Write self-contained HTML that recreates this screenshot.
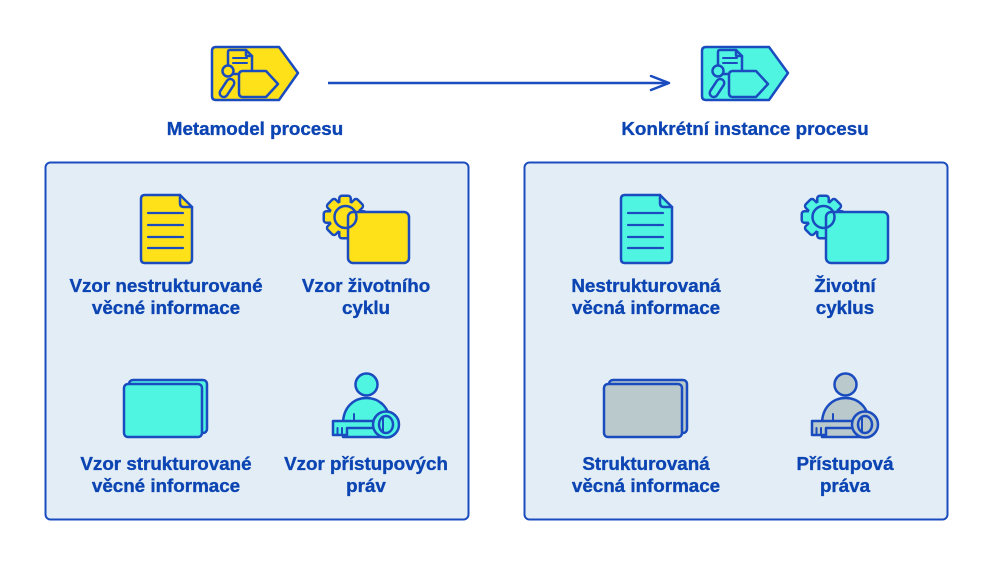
<!DOCTYPE html>
<html><head><meta charset="utf-8"><style>
html,body{margin:0;padding:0;background:#fff;}
svg{display:block;}
text{font-family:"Liberation Sans",Arial,sans-serif;font-weight:bold;font-size:18.8px;fill:#0c45b3;stroke:#0c45b3;stroke-width:0.35px;text-anchor:middle;}
</style></head><body>
<svg width="1000" height="566" viewBox="0 0 1000 566" xmlns="http://www.w3.org/2000/svg">
<defs>
  <g id="topicon" stroke="#1a4cc0" stroke-width="2.5" stroke-linejoin="round" stroke-linecap="round">
    <path d="M216 47 H279 L298 73 L279 100 H216 Q212 100 212 96 V51 Q212 47 216 47 Z"/>
    <path d="M230 50 H246 L252 56 V72 Q252 74 250 74 H230 Q228 74 228 72 V52 Q228 50 230 50 Z"/>
    <path d="M246 50 V55 Q246 56 247 56 H252" fill="none"/>
    <line x1="233" y1="58" x2="247" y2="58" stroke-width="2"/>
    <line x1="233" y1="63" x2="247" y2="63" stroke-width="2"/>
    <rect x="-4" y="-10" width="8" height="20" rx="4" transform="translate(227 88) rotate(33)"/>
    <circle cx="228" cy="71" r="5.5"/>
    <path d="M243 71 H266 L278 84 L266 97 H243 Q239 97 239 93 V75 Q239 71 243 71 Z"/>
  </g>
  <g id="doc" stroke="#1a4cc0" stroke-width="2.5" stroke-linejoin="round" stroke-linecap="round">
    <path d="M145 195 H180 L192 207 V259 Q192 263 188 263 H145 Q141 263 141 259 V199 Q141 195 145 195 Z"/>
    <path d="M180 195 V203 Q180 207 184 207 H192" fill="none"/>
    <g stroke-width="2.2">
      <line x1="148" y1="213" x2="183" y2="213"/>
      <line x1="148" y1="225" x2="183" y2="225"/>
      <line x1="148" y1="237" x2="183" y2="237"/>
      <line x1="148" y1="248" x2="183" y2="248"/>
    </g>
  </g>
  <g id="gearparts">
    <circle cx="0" cy="0" r="15"/>
    <rect x="-4.5" y="-20" width="9" height="10" rx="1.5" transform="rotate(0)"/>
    <rect x="-4.5" y="-20" width="9" height="10" rx="1.5" transform="rotate(45)"/>
    <rect x="-4.5" y="-20" width="9" height="10" rx="1.5" transform="rotate(90)"/>
    <rect x="-4.5" y="-20" width="9" height="10" rx="1.5" transform="rotate(135)"/>
    <rect x="-4.5" y="-20" width="9" height="10" rx="1.5" transform="rotate(180)"/>
    <rect x="-4.5" y="-20" width="9" height="10" rx="1.5" transform="rotate(225)"/>
    <rect x="-4.5" y="-20" width="9" height="10" rx="1.5" transform="rotate(270)"/>
    <rect x="-4.5" y="-20" width="9" height="10" rx="1.5" transform="rotate(315)"/>
  </g>
  <g id="cards" stroke="#1a4cc0" stroke-width="2.5" stroke-linejoin="round">
    <rect x="129" y="380" width="78" height="53" rx="4"/>
    <rect x="124" y="384" width="78" height="53" rx="4"/>
  </g>
  <g id="person" stroke="#1a4cc0" stroke-width="2.5" stroke-linejoin="round" stroke-linecap="round">
    <circle cx="366.5" cy="384.5" r="11"/>
    <path d="M343 437 V424 C343 407 354 398 366.5 398 C379 398 390 407 390 424 V437 Z"/>
    <line x1="354" y1="414" x2="354" y2="428" stroke-width="2"/>
    <path d="M333 421 H375 V428 H347 V435 H333 Z"/>
    <line x1="337.5" y1="428" x2="337.5" y2="435" stroke-width="2"/>
    <line x1="342" y1="428" x2="342" y2="435" stroke-width="2"/>
    <circle cx="386" cy="424.5" r="13"/>
    <ellipse cx="386" cy="424.5" rx="7" ry="8.5"/>
    <line x1="383" y1="416.5" x2="383" y2="432.5" stroke-width="2"/>
  </g>
</defs>

<!-- top icons -->
<use href="#topicon" fill="#ffe11a"/>
<use href="#topicon" fill="#50f5e2" transform="translate(490 0)"/>

<!-- arrow -->
<line x1="328" y1="83" x2="667" y2="83" stroke="#1a4cc0" stroke-width="2.5"/>
<polyline points="651,76 669,83 651,90" fill="none" stroke="#1a4cc0" stroke-width="2.5" stroke-linejoin="round" stroke-linecap="round"/>

<text x="255" y="135">Metamodel procesu</text>
<text x="745" y="135">Konkrétní instance procesu</text>

<!-- panels -->
<rect x="45.5" y="162.5" width="423" height="357" rx="5" fill="#e2edf5" stroke="#1a4cc0" stroke-width="2"/>
<rect x="524.5" y="162.5" width="423" height="357" rx="5" fill="#e2edf5" stroke="#1a4cc0" stroke-width="2"/>

<!-- LEFT PANEL -->
<use href="#doc" fill="#ffe11a"/>
<g transform="translate(345 217)">
  <use href="#gearparts" fill="#1a4cc0" stroke="#1a4cc0" stroke-width="5" stroke-linejoin="round"/>
  <use href="#gearparts" fill="#ffe11a"/>
</g>
<rect x="348" y="212" width="61" height="51" rx="5" fill="#ffe11a" stroke="#1a4cc0" stroke-width="2.5"/>
<circle cx="345.5" cy="217" r="11" fill="none" stroke="#1a4cc0" stroke-width="2.5"/>

<use href="#cards" fill="#50f5e2"/>
<use href="#person" fill="#50f5e2"/>

<text x="166" y="292">Vzor nestrukturované</text>
<text x="166" y="314">věcné informace</text>
<text x="366" y="292">Vzor životního</text>
<text x="366" y="314">cyklu</text>
<text x="166" y="470">Vzor strukturované</text>
<text x="166" y="492">věcné informace</text>
<text x="366" y="470">Vzor přístupových</text>
<text x="366" y="492">práv</text>

<!-- RIGHT PANEL -->
<use href="#doc" fill="#50f5e2" transform="translate(480 0)"/>
<g transform="translate(823 217)">
  <use href="#gearparts" fill="#1a4cc0" stroke="#1a4cc0" stroke-width="5" stroke-linejoin="round"/>
  <use href="#gearparts" fill="#50f5e2"/>
</g>
<rect x="826" y="212" width="62" height="51" rx="5" fill="#50f5e2" stroke="#1a4cc0" stroke-width="2.5"/>
<circle cx="823.5" cy="217" r="11" fill="none" stroke="#1a4cc0" stroke-width="2.5"/>

<use href="#cards" fill="#b9c9cc" transform="translate(480 0)"/>
<use href="#person" fill="#b9c9cc" transform="translate(479 0)"/>

<text x="646" y="292">Nestrukturovaná</text>
<text x="646" y="314">věcná informace</text>
<text x="845" y="292">Životní</text>
<text x="845" y="314">cyklus</text>
<text x="646" y="470">Strukturovaná</text>
<text x="646" y="492">věcná informace</text>
<text x="845" y="470">Přístupová</text>
<text x="845" y="492">práva</text>
</svg>
</body></html>
